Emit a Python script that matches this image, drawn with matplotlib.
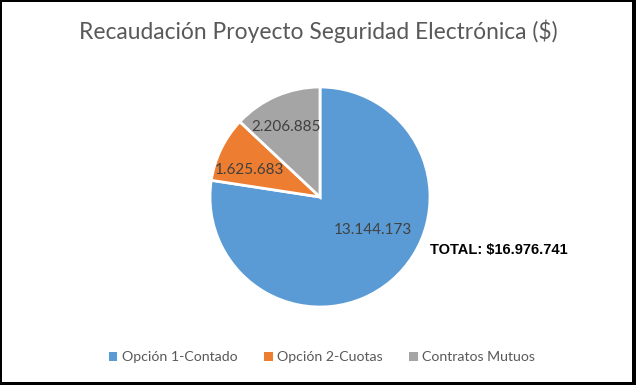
import matplotlib
matplotlib.use("Agg")
import matplotlib.pyplot as plt
from matplotlib.patches import Rectangle

# datos
categorias = ["Opción 1-Contado", "Opción 2-Cuotas", "Contratos Mutuos"]
valores = [13144173, 1625683, 2206885]
colores = ["#5B9BD5", "#ED7D31", "#A5A5A5"]
titulo = "Recaudación Proyecto Seguridad Electrónica ($)"

def fmt_miles(v):
    return f"{v:,}".replace(",", ".")

total = sum(valores)

fig = plt.figure(figsize=(6.36, 3.85), dpi=100, facecolor="black")
# fondo blanco dentro del marco negro
fig.patches.append(Rectangle((2 / 636, 3 / 385), 630 / 636, 380 / 385,
                             transform=fig.transFigure, facecolor="white",
                             edgecolor="none", zorder=-5))

ax = fig.add_axes([210 / 636, 78 / 385, 220 / 636, 220 / 385])
ax.set_zorder(2)
wedges, _ = ax.pie(valores, colors=colores, startangle=90, counterclock=False,
                   radius=1, wedgeprops=dict(edgecolor="white", linewidth=2))
ax.set_xlim(-1, 1)
ax.set_ylim(-1, 1)
ax.set_aspect("equal")
ax.axis("off")

# posiciones de etiquetas (relativas al radio)
pos_etiquetas = [(0.48, -0.30), (-0.645, 0.245), (-0.31, 0.636)]
for v, (x, y) in zip(valores, pos_etiquetas):
    ax.text(x, y, fmt_miles(v), ha="center", va="center", fontsize=11,
            color="#404040", family="Lato")

fig.text(318 / 636, 1 - 31 / 385, titulo, ha="center", va="center",
         fontsize=16.4, color="#595959", family="Lato")

fig.text(430 / 636, 1 - 250 / 385, "TOTAL: $" + fmt_miles(total), ha="left",
         va="center", fontsize=10.5, fontweight="bold", color="black",
         family="Liberation Sans")

leg = fig.legend(wedges, categorias, loc="center", ncol=3,
                 bbox_to_anchor=(322 / 636, 1 - 357 / 385), frameon=False,
                 handlelength=0.6, handleheight=0.6, handletextpad=0.3,
                 columnspacing=1.9, prop=dict(family="Lato", size=10.2))
for t in leg.get_texts():
    t.set_color("#595959")
for h in leg.legend_handles:
    h.set_linewidth(0)

fig.savefig("out.png", dpi=100, facecolor=fig.get_facecolor())
